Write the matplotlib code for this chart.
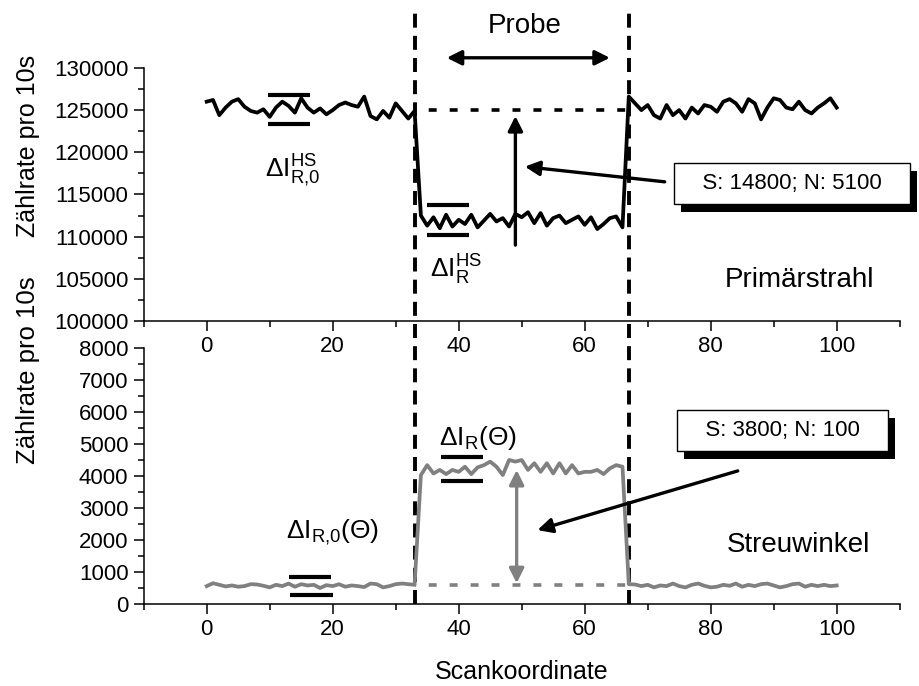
import matplotlib
matplotlib.use('Agg')
import matplotlib.pyplot as plt
import matplotlib.patheffects as pe
from matplotlib.ticker import MultipleLocator
import numpy as np

plt.rcParams.update({
    "font.family": ["Liberation Sans", "DejaVu Sans"],
    "mathtext.fontset": "custom",
    "mathtext.rm": "Liberation Sans",
    "mathtext.it": "Liberation Sans:italic",
    "mathtext.bf": "Liberation Sans:bold",
    "font.size": 16,
    "axes.linewidth": 1.1,
    "xtick.major.width": 1.1,
    "ytick.major.width": 1.1,
    "xtick.minor.width": 1.1,
    "ytick.minor.width": 1.1,
    "xtick.major.size": 7,
    "ytick.major.size": 7,
    "xtick.minor.size": 4.5,
    "ytick.minor.size": 4.5,
})

# data
x = np.arange(0, 101)

primary = [126000, 126200, 124400, 125300, 126000, 126300, 125400, 124900, 124700, 125100,
           124200, 125300, 126000, 125500, 124700, 126400, 125300, 124700, 125200, 124500,
           125000, 125600, 125900, 125600, 125400, 126600, 124300, 123900, 124900, 124100,
           125800, 124900, 124000, 124900,
           112500, 111300, 112300, 111000, 112600, 111200, 112000, 111500, 112600, 111100,
           111900, 112700, 111800, 112200, 111200, 112700, 112300, 112900, 111600, 112800,
           111300, 112200, 112500, 111600, 112000, 112400, 111400, 112300, 110900, 111500,
           112200, 112400, 111100,
           126600, 125800, 125000, 125600, 124400, 124000, 125600, 124400, 125000, 124000,
           125300, 124600, 125600, 125400, 124800, 126000, 126300, 125800, 124800, 126300,
           125800, 123900, 125300, 126400, 126200, 125300, 125100, 126000, 125000, 124600,
           125300, 125800, 126400, 125300]

scatter = [560, 650, 600, 550, 580, 540, 560, 620, 610, 570,
           520, 600, 560, 640, 540, 620, 580, 600, 500, 590,
           560, 620, 540, 580, 560, 530, 640, 620, 520, 560,
           620, 640, 620, 600,
           4030, 4340, 4080, 4190, 4060, 4190, 4130, 4290, 4060, 4270,
           4340, 4450, 4290, 4030, 4500, 4450, 4500, 4190, 4400, 4130,
           4400, 4080, 4400, 4080, 4340, 4080, 4130, 4130, 4190, 4060,
           4240, 4340, 4290,
           620, 610, 560, 600, 520, 580, 560, 640, 560, 520,
           600, 640, 570, 520, 540, 600, 570, 640, 540, 600,
           560, 620, 640, 580, 520, 560, 620, 640, 540, 600,
           560, 600, 560, 580]

edges = [33, 67]
level_primary = 125000
level_scatter = 600

fig = plt.figure(figsize=(9.2, 6.86), dpi=100)
ax1 = fig.add_axes([0.1562, 0.532, 0.8217, 0.369])
ax2 = fig.add_axes([0.1562, 0.1195, 0.8217, 0.3732])

for ax in (ax1, ax2):
    ax.patch.set_visible(False)
    ax.spines['top'].set_visible(False)
    ax.spines['right'].set_visible(False)
    ax.set_xlim(-10, 110)
    ax.xaxis.set_major_locator(MultipleLocator(20))
    ax.xaxis.set_minor_locator(MultipleLocator(10))
    ax.tick_params(which='both', direction='out', labelsize=16)
    ax.tick_params(axis='x', pad=4)
    ax.tick_params(axis='y', pad=4)

ax1.set_ylim(100000, 130000)
ax1.yaxis.set_major_locator(MultipleLocator(5000))
ax1.yaxis.set_minor_locator(MultipleLocator(2500))
ax2.set_ylim(0, 8000)
ax2.yaxis.set_major_locator(MultipleLocator(1000))
ax2.yaxis.set_minor_locator(MultipleLocator(500))

ax1.plot(x, primary, color='black', lw=2.7)
ax2.plot(x, scatter, color='#808080', lw=2.7)

ax1.set_ylabel('Zählrate pro 10s', fontsize=18)
ax2.set_ylabel('Zählrate pro 10s', fontsize=18.5)
ax1.yaxis.set_label_coords(-0.137, 0.69)
ax2.yaxis.set_label_coords(-0.137, 0.914)
ax2.set_xlabel('Scankoordinate', fontsize=18, labelpad=14)

# sample edges, spanning both panels
for e in edges:
    ax2.plot([e, e], [0, 2.32], transform=ax2.get_xaxis_transform(), color='black',
             lw=2.8, linestyle=(0, (3.6, 2.1)), clip_on=False, zorder=1)

# reference levels
ax1.plot(edges, [level_primary, level_primary], color='black', lw=2.6,
         linestyle=(2, (2.2, 3.6)))
ax2.plot(edges, [level_scatter, level_scatter], color='#808080', lw=2.6,
         linestyle=(2, (2.2, 3.6)))

# noise bars
bar = dict(color='black', lw=3, solid_capstyle='butt')
ax1.plot([9.7, 16.4], [126800, 126800], **bar)
ax1.plot([9.7, 16.4], [123300, 123300], **bar)
ax1.plot([35.0, 41.7], [113700, 113700], **bar)
ax1.plot([35.0, 41.7], [110200, 110200], **bar)
ax2.plot([13.0, 19.8], [840, 840], **bar)
ax2.plot([13.2, 20.0], [280, 280], **bar)
ax2.plot([37.2, 43.8], [4590, 4590], **bar)
ax2.plot([37.2, 43.8], [3840, 3840], **bar)

# labels
ax1.text(9.2, 117100, r'$\Delta\mathrm{I}_{\mathrm{R{,}0}}^{\mathrm{HS}}$', fontsize=19,
         ha='left', va='baseline')
ax1.text(35.4, 105100, r'$\Delta\mathrm{I}_{\mathrm{R}}^{\mathrm{HS}}$', fontsize=19,
         ha='left', va='baseline')
ax2.text(36.8, 4970, r'$\Delta\mathrm{I}_{\mathrm{R}}(\Theta)$', fontsize=19,
         ha='left', va='baseline')
ax2.text(12.6, 2060, r'$\Delta\mathrm{I}_{\mathrm{R{,}0}}(\Theta)$', fontsize=19,
         ha='left', va='baseline')
ax1.text(82.2, 104000, 'Primärstrahl', fontsize=20, ha='left', va='baseline')
ax2.text(82.5, 1625, 'Streuwinkel', fontsize=20, ha='left', va='baseline')
ax1.text(50.5, 135000, 'Probe', fontsize=20, ha='center', va='center')

# arrows
arr = dict(arrowstyle='-|>', color='black', lw=2.4, mutation_scale=22, shrinkA=0, shrinkB=0)
ax1.annotate('', xy=(38.1, 131200), xytext=(64.0, 131200), annotation_clip=False,
             arrowprops=dict(arr, arrowstyle='<|-|>'))
ax1.annotate('', xy=(49.0, 124300), xytext=(49.0, 109000), arrowprops=arr)
ax1.annotate('', xy=(50.5, 118300), xytext=(72.7, 116500), arrowprops=arr)
ax2.annotate('', xy=(52.5, 2310), xytext=(84.3, 4160), arrowprops=arr)
ax2.annotate('', xy=(49.2, 4190), xytext=(49.2, 650),
             arrowprops=dict(arr, arrowstyle='<|-|>', color='#808080'))

# signal/noise boxes with drop shadow
box = dict(boxstyle='square,pad=0.45', fc='white', ec='black', lw=1)
for ax, xb, yb, s in [(ax1, 92.9, 116340, 'S: 14800; N: 5100'),
                      (ax2, 91.4, 5420, 'S: 3800; N: 100')]:
    t = ax.text(xb, yb, '   ' + s + '   ', fontsize=16, ha='center', va='center', bbox=box,
                zorder=5)
    t.get_bbox_patch().set_path_effects([
        pe.SimplePatchShadow(offset=(5, -6), shadow_rgbFace='black', alpha=1.0),
        pe.Normal()])

fig.savefig('out.png', dpi=100)
